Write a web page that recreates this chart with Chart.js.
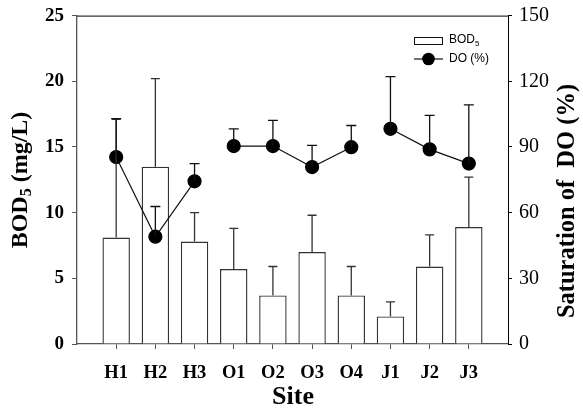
<!DOCTYPE html>
<html>
<head>
<meta charset="utf-8">
<script src="https://cdn.jsdelivr.net/npm/chart.js@4"></script>
<style>
  html, body { margin: 0; padding: 0; background: #fff; }
  #wrap { width: 583px; height: 412px; }
</style>
</head>
<body>
<div id="wrap"><canvas id="bodChart" width="583" height="412"></canvas></div>
<script>
// values
const sites = ['H1', 'H2', 'H3', 'O1', 'O2', 'O3', 'O4', 'J1', 'J2', 'J3'];
const bod = [8.1, 13.5, 7.8, 5.7, 3.7, 7.0, 3.7, 2.1, 5.9, 8.9];
const bodErr = [9.0, 6.7, 2.2, 3.1, 2.2, 2.8, 2.2, 1.1, 2.4, 3.8];
const doSat = [85.4, 49.0, 74.3, 90.4, 90.4, 80.8, 89.9, 98.3, 88.9, 82.4];
const doErr = [17.5, 13.8, 8.1, 7.9, 11.7, 9.9, 9.9, 23.8, 15.5, 26.8];
const bodTicks = [0, 5, 10, 15, 20, 25];
const doTicks = [0, 30, 60, 90, 120, 150];

const serif = "'Liberation Serif', 'Times New Roman', serif";
const sans = "'Liberation Sans', Arial, sans-serif";

// upper error bars for both series
const errorBars = {
    id: 'errorBars',
    afterDatasetsDraw(chart) {
        const ctx = chart.ctx;
        const sets = [[0, bod, bodErr, 9, '#333'], [1, doSat, doErr, 10, '#111']];
        ctx.save();
        ctx.lineWidth = 1.3;
        sets.forEach(([idx, vals, errs, cap, col]) => {
            const meta = chart.getDatasetMeta(idx);
            const ys = chart.scales[meta.yAxisID];
            ctx.strokeStyle = col;
            meta.data.forEach((el, i) => {
                const x = el.x;
                const y0 = ys.getPixelForValue(vals[i]);
                const y1 = ys.getPixelForValue(vals[i] + errs[i]);
                ctx.beginPath();
                ctx.moveTo(x, y0);
                ctx.lineTo(x, y1);
                ctx.moveTo(x - cap / 2, y1);
                ctx.lineTo(x + cap / 2, y1);
                ctx.stroke();
            });
        });
        ctx.restore();
    }
};

// text with a subscript part, drawn left to right from x
function subText(ctx, parts, x, y, size, subSize, subDrop) {
    let cx = x;
    parts.forEach(p => {
        ctx.font = `${p.weight} ${p.sub ? subSize : size}px ${p.family}`;
        ctx.fillText(p.t, cx, y + (p.sub ? subDrop : 0));
        cx += ctx.measureText(p.t).width;
    });
    return cx - x;
}
function measureParts(ctx, parts, size, subSize) {
    let w = 0;
    parts.forEach(p => {
        ctx.font = `${p.weight} ${p.sub ? subSize : size}px ${p.family}`;
        w += ctx.measureText(p.t).width;
    });
    return w;
}

// axis titles, top frame line and the little legend
const decorations = {
    id: 'decorations',
    afterDraw(chart) {
        const ctx = chart.ctx;
        const a = chart.chartArea;
        ctx.save();
        ctx.strokeStyle = '#000';
        ctx.lineWidth = 1;
        ctx.beginPath();
        ctx.moveTo(a.left, a.top + 0.5);
        ctx.lineTo(a.right, a.top + 0.5);
        ctx.stroke();

        ctx.fillStyle = '#000';
        ctx.textBaseline = 'middle';
        ctx.textAlign = 'left';

        const leftParts = [
            { t: 'BOD', weight: 'bold', family: serif },
            { t: '5', weight: 'bold', family: serif, sub: true },
            { t: ' (mg/L)', weight: 'bold', family: serif }
        ];
        const lw = measureParts(ctx, leftParts, 24, 16);
        ctx.save();
        ctx.translate(21, 180);
        ctx.rotate(-Math.PI / 2);
        subText(ctx, leftParts, -lw / 2, 0, 24, 16, 6);
        ctx.restore();

        ctx.save();
        ctx.font = `bold 24.5px ${serif}`;
        ctx.textAlign = 'center';
        ctx.translate(568, 201);
        ctx.rotate(-Math.PI / 2);
        ctx.fillText('Saturation of  DO (%)', 0, 0);
        ctx.restore();

        ctx.font = `bold 26px ${serif}`;
        ctx.textAlign = 'center';
        ctx.fillText('Site', 293, 397);

        // legend
        ctx.textAlign = 'left';
        ctx.strokeStyle = '#111';
        ctx.lineWidth = 1;
        ctx.fillStyle = '#fff';
        ctx.fillRect(414.5, 37.5, 28, 7);
        ctx.strokeRect(414.5, 37.5, 28, 7);
        ctx.fillStyle = '#000';
        subText(ctx, [
            { t: 'BOD', weight: 'normal', family: sans },
            { t: '5', weight: 'normal', family: sans, sub: true }
        ], 449, 40, 12, 8, 4);

        ctx.lineWidth = 1.2;
        ctx.beginPath();
        ctx.moveTo(414, 59);
        ctx.lineTo(443, 59);
        ctx.stroke();
        ctx.beginPath();
        ctx.arc(428.5, 59, 6.3, 0, Math.PI * 2);
        ctx.fill();
        ctx.font = `12px ${sans}`;
        ctx.fillText('DO (%)', 449, 59);
        ctx.restore();
    }
};

const bodChart = new Chart(document.getElementById('bodChart').getContext('2d'), {
    type: 'bar',
    data: {
        datasets: [{
            label: 'BOD5',
            data: bod.map((v, i) => ({ x: i, y: v })),
            yAxisID: 'y',
            backgroundColor: '#fff',
            borderColor: '#333',
            borderWidth: 1.4,
            categoryPercentage: 1,
            barPercentage: 0.7,
            order: 2
        }, {
            type: 'line',
            label: 'DO (%)',
            data: doSat.map((v, i) => ({ x: i, y: v })),
            yAxisID: 'y1',
            borderColor: '#111',
            borderWidth: 1.2,
            backgroundColor: '#000',
            pointRadius: 6.5,
            pointBackgroundColor: '#000',
            pointBorderColor: '#000',
            tension: 0,
            segment: {
                // H, O and J groups are not joined to each other
                borderColor: c => sites[c.p0DataIndex][0] === sites[c.p1DataIndex][0] ? '#111' : 'rgba(0,0,0,0)'
            },
            order: 1
        }]
    },
    options: {
        responsive: false,
        animation: false,
        layout: { padding: { top: 15 } },
        plugins: {
            legend: { display: false },
            tooltip: { enabled: false }
        },
        scales: {
            x: {
                type: 'linear',
                min: -1,
                max: 10,
                offset: false,
                afterBuildTicks: s => { s.ticks = sites.map((n, i) => ({ value: i })); },
                afterFit: s => { s.height = 68; },
                ticks: {
                    callback: v => sites[v],
                    color: '#000',
                    padding: 13,
                    autoSkip: false,
                    maxRotation: 0,
                    font: { family: serif, size: 18.5, weight: 'bold' }
                },
                grid: { drawOnChartArea: false, drawTicks: true, tickLength: 5, color: '#555', offset: false },
                border: { color: '#555', width: 1.3 }
            },
            y: {
                position: 'left',
                min: 0,
                max: 25,
                afterBuildTicks: s => { s.ticks = bodTicks.map(v => ({ value: v })); },
                afterFit: s => { s.width = 77; },
                ticks: {
                    color: '#000',
                    padding: 8,
                    font: { family: serif, size: 19, weight: 'bold', lineHeight: 0.8 }
                },
                grid: { drawOnChartArea: false, drawTicks: true, tickLength: 5, color: '#555' },
                border: { color: '#555', width: 1.3 }
            },
            y1: {
                position: 'right',
                min: 0,
                max: 150,
                afterBuildTicks: s => { s.ticks = doTicks.map(v => ({ value: v })); },
                afterFit: s => { s.width = 75; },
                ticks: {
                    color: '#000',
                    padding: 7,
                    font: { family: serif, size: 20, lineHeight: 0.8 }
                },
                grid: { drawOnChartArea: false, drawTicks: true, tickLength: 4, color: '#000' },
                border: { color: '#000', width: 1 }
            }
        }
    },
    plugins: [errorBars, decorations]
});
</script>
</body>
</html>
